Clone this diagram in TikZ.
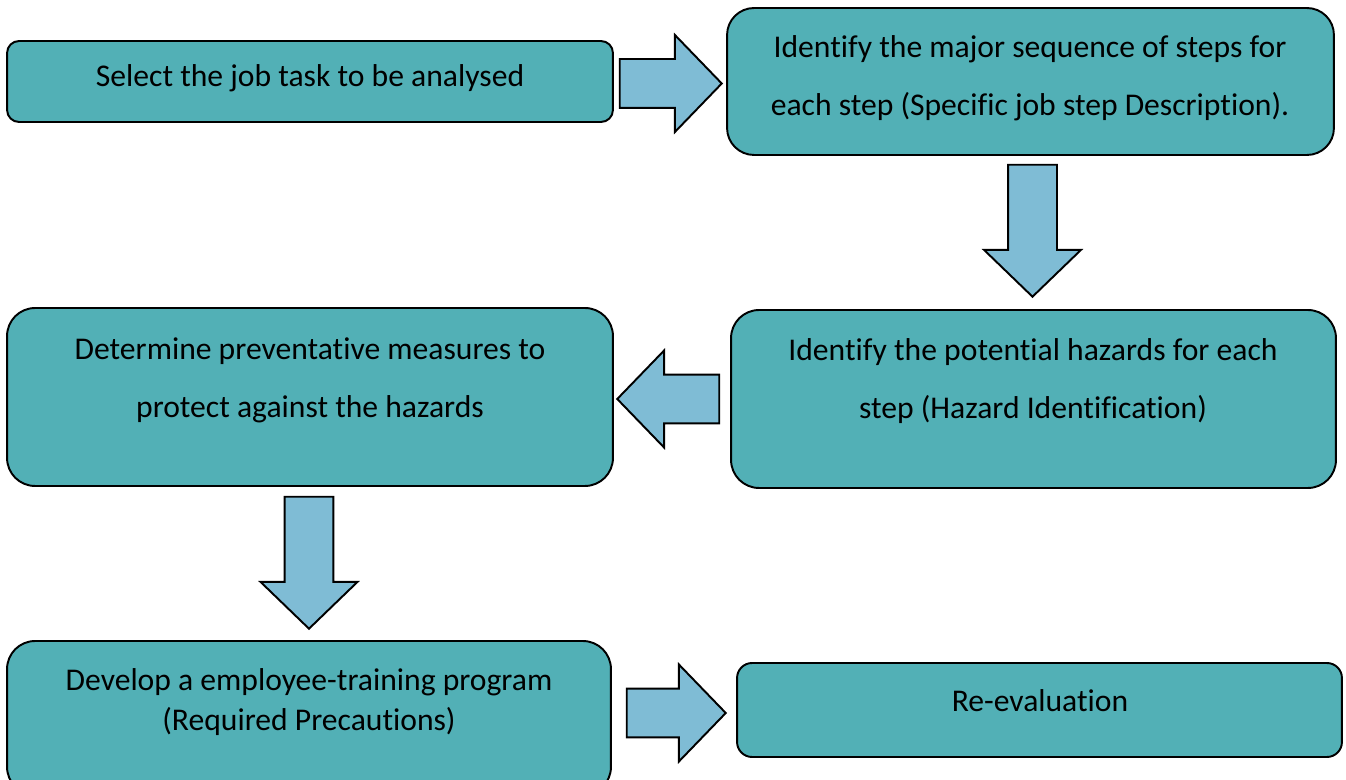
\documentclass[tikz,border=0pt]{standalone}
\usepackage{fontspec}
\setmainfont[Ligatures=NoCommon, Contextuals=NoAlternate]{Carlito}
\usetikzlibrary{shapes.arrows,calc}
\definecolor{boxteal}{RGB}{82,176,182}
\definecolor{arrowblue}{RGB}{127,188,213}
\tikzset{
	stepbox/.style={draw=black, line width=1.1pt, fill=boxteal, rounded corners=#1, inner sep=0pt},
	steptext/.style={align=center, inner sep=0pt, font=\fontsize{18}{33}\selectfont},
	blockarrow/.style={single arrow, draw=black, line width=1.1pt, fill=arrowblue, inner xsep=0pt, inner ysep=0.47cm,
		minimum width=1.9cm, single arrow head extend=0.48cm, single arrow tip angle=92, minimum height=#1, anchor=tip},
}
\begin{document}
\begin{tikzpicture}[x=0.02cm, y=-0.02cm]
	\useasboundingbox (0,0) rectangle (1346,780);
	\clip (0,0) rectangle (1346,780);
	% boxes
	\node[stepbox=0.24cm, minimum width=12.12cm, minimum height=1.62cm] (select) at (310,81.5) {};
	\node[stepbox=0.54cm, minimum width=12.14cm, minimum height=2.94cm] (major) at (1030.5,81.5) {};
	\node[stepbox=0.56cm, minimum width=12.10cm, minimum height=3.56cm] (hazards) at (1033.5,399) {};
	\node[stepbox=0.56cm, minimum width=12.12cm, minimum height=3.56cm] (measures) at (310,397) {};
	\node[stepbox=0.56cm, minimum width=12.08cm, minimum height=3.08cm] (training) at (309,718) {};
	\node[stepbox=0.30cm, minimum width=12.10cm, minimum height=1.88cm] (reeval) at (1039.5,710) {};
	% texts
	\node[steptext] (t1) at (310,78) {Select the job task to be analysed};
	\node[steptext] (t2) at (1030,78) {Identify the major sequence of steps for\\each step (Specific job step Description).};
	\node[steptext] (t3) at (1033,381) {Identify the potential hazards for each\\step (Hazard Identification)};
	\node[steptext] (t4) at (310,380) {Determine preventative measures to\\protect against the hazards};
	\node[steptext, font=\fontsize{18}{23}\selectfont] (t5) at (309,702) {Develop a employee-training program\\(Required Precautions)};
	\node[steptext] (t6) at (1040,701) {Re-evaluation};
	% arrows (placed by their tips)
	\node[blockarrow=2.04cm] (a1) at ($(major.west)+(-3,2)$) {};
	\node[blockarrow=2.64cm, rotate=-90] (a2) at ($(hazards.north)+(-1,-11)$) {};
	\node[blockarrow=2.04cm, rotate=180] (a3) at ($(measures.east)+(2,2)$) {};
	\node[blockarrow=2.64cm, rotate=-90] (a4) at ($(training.north)+(0,-10)$) {};
	\node[blockarrow=1.98cm] (a5) at ($(reeval.west)+(-9,3)$) {};
\end{tikzpicture}
\end{document}
